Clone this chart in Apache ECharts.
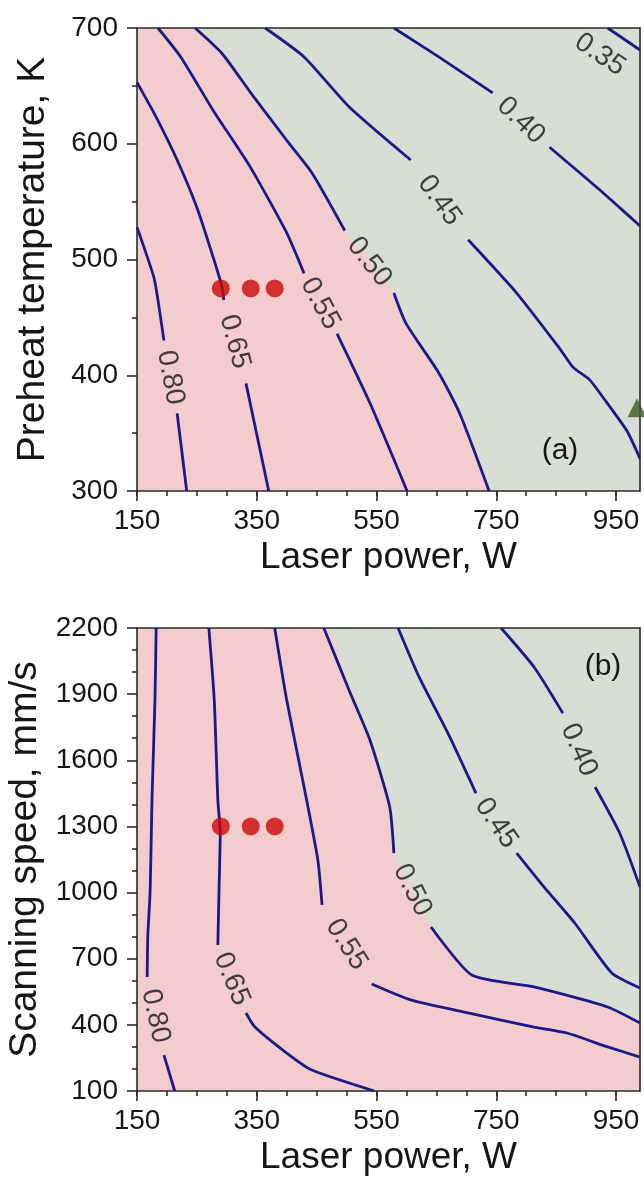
<!DOCTYPE html>
<html>
<head>
<meta charset="utf-8">
<script src="https://cdn.jsdelivr.net/npm/echarts@6/dist/echarts.min.js"></script>
<style>
html, body { margin: 0; padding: 0; background: #fff; }
#chart { width: 644px; height: 1177px; }
</style>
</head>
<body>
<div id="chart"></div>
<script>
// axis ticks
const xMajor = [150, 350, 550, 750, 950];
const xMinor = [150, 200, 250, 300, 350, 400, 450, 500, 550, 600, 650, 700, 750, 800, 850, 900, 950];
const yTicksA = [300, 400, 500, 600, 700];
const yTicksB = [100, 400, 700, 1000, 1300, 1600, 1900, 2200];

// panel (a): laser power W vs preheat temperature K
// each contour = list of segments, split where the level label sits
const a80 = [[[150, 528], [178, 485], [185, 465], [195, 430]], [[217, 367], [233, 300]]];
const a65 = [[[150, 653], [182, 623], [217, 586], [250, 545], [279, 499], [292, 476], [295, 465]], [[332, 393], [370, 300]]];
const a55 = [[[185, 700], [223, 675], [277, 629], [339, 580], [400, 523], [429, 488]], [[484, 436], [539, 376], [601, 300]]];
const a50 = [[[247, 700], [292, 678], [340, 644], [400, 603], [442, 575], [497, 525]], [[579, 471], [599, 445], [654, 402], [689, 367], [738, 300]]];
const a45 = [[[364, 700], [429, 675], [504, 632], [607, 586]], [[703, 517], [784, 471], [856, 423], [878, 407], [906, 396], [928, 381], [968, 352], [990, 328]]];
const a40 = [[[579, 700], [654, 675], [744, 644]], [[839, 597], [923, 560], [990, 529]]];
const a35 = [[[936, 700], [990, 681]]];
const aLabelText = ['0.80', '0.65', '0.55', '0.50', '0.45', '0.40', '0.35'];
const aLabelAt = [[206, 398], [313, 429], [456, 462], [538, 498], [655, 551], [791, 620], [923, 677]];
const aDots = [[290, 475], [340, 475], [380, 475]];
const aTriangle = [[985, 372]];

// panel (b): laser power W vs scanning speed mm/s
const b80 = [[[182, 2200], [180, 1873], [175, 1420], [172, 1012], [168, 800], [167, 617]], [[195, 263], [213, 100]]];
const b65 = [[[270, 2200], [279, 1873], [285, 1420], [289, 1270], [287, 1012], [285, 762]], [[332, 454], [347, 390], [400, 272], [442, 195], [546, 100]]];
const b55 = [[[380, 2200], [400, 1873], [429, 1479], [452, 1148], [459, 944]], [[542, 585], [607, 513], [703, 454], [813, 390], [868, 363], [936, 300], [990, 254]]];
const b50 = [[[462, 2200], [504, 1919], [539, 1692], [572, 1388], [579, 1179]], [[641, 844], [709, 626], [813, 572], [936, 481], [990, 408]]];
const b45 = [[[586, 2200], [621, 1978], [669, 1724], [716, 1451]], [[784, 1179], [831, 1021], [881, 862], [943, 635], [990, 567]]];
const b40 = [[[758, 2200], [813, 2023], [861, 1814]], [[915, 1479], [956, 1270], [990, 1025]]];
const bLabelText = ['0.80', '0.65', '0.55', '0.50', '0.45', '0.40'];
const bLabelAt = [[181, 440], [308, 608], [500, 765], [610, 1011], [750, 1315], [888, 1647]];
const bDots = [[290, 1300], [340, 1300], [380, 1300]];

const FONT = '"Liberation Sans", Arial, Helvetica, sans-serif';
const INK = '#161616';
const AXIS = '#2a2a2a';
const LINE = '#1a1a88';
const PINK = '#f3cdcd';
const GREY = '#d9ded5';
const DOT = '#cc0808';

const GL = 137, GW = 503, GH = 463;
const TOP_A = 28, TOP_B = 628;
const XMIN = 150, XMAX = 990;

// rotation of a level label, taken from the chord across the gap in the line
function angleOf(segs, yRange) {
  let p, q;
  if (segs.length > 1) { p = segs[0][segs[0].length - 1]; q = segs[1][0]; }
  else { p = segs[0][0]; q = segs[0][segs[0].length - 1]; }
  const dx = (q[0] - p[0]) * GW / (XMAX - XMIN);
  const dyDown = (p[1] - q[1]) * GH / yRange;
  return -Math.atan2(dyDown, dx) * 180 / Math.PI;
}

function gridAt(top, painted) {
  return {
    left: GL, top: top, width: GW, height: GH,
    show: painted, backgroundColor: painted ? GREY : 'transparent', borderWidth: 0,
    containLabel: false, outerBoundsMode: 'none'
  };
}

const lineTick = { color: AXIS, width: 1.6 };
const plain = v => String(v);

function xAxes(g, name) {
  return [
    {
      type: 'value', gridIndex: g, position: 'bottom', min: XMIN, max: XMAX, z: 5,
      name: name, nameLocation: 'middle', nameGap: 48,
      nameTextStyle: { fontSize: 37, color: INK, fontFamily: FONT },
      axisLine: { show: true, onZero: false, lineStyle: lineTick },
      axisTick: { show: true, customValues: xMajor, length: 10, lineStyle: lineTick },
      axisLabel: { show: true, customValues: xMajor, formatter: plain, fontSize: 28, color: INK, margin: 16, fontFamily: FONT },
      splitLine: { show: false }
    },
    {
      type: 'value', gridIndex: g, position: 'top', min: XMIN, max: XMAX, z: 5,
      axisLine: { show: true, onZero: false, lineStyle: lineTick },
      axisTick: { show: false }, axisLabel: { show: false }, splitLine: { show: false }
    },
    {
      type: 'value', gridIndex: g + 1, position: 'bottom', min: XMIN, max: XMAX,
      axisLine: { show: false, onZero: false },
      axisTick: { show: true, customValues: xMinor, length: 5, lineStyle: lineTick },
      axisLabel: { show: false }, splitLine: { show: false }
    }
  ];
}

function yAxes(g, name, min, max, step, minorSplit, ticks) {
  return [
    {
      type: 'value', gridIndex: g, position: 'left', min: min, max: max, interval: step, z: 5,
      name: name, nameLocation: 'middle', nameGap: 84,
      nameTextStyle: { fontSize: 39, color: INK, fontFamily: FONT },
      axisLine: { show: true, onZero: false, lineStyle: lineTick },
      axisTick: { show: true, length: 10, lineStyle: lineTick },
      minorTick: { show: true, splitNumber: minorSplit, length: 5, lineStyle: lineTick },
      axisLabel: { show: true, customValues: ticks, formatter: plain, fontSize: 28, color: INK, margin: 19, fontFamily: FONT },
      splitLine: { show: false }, minorSplitLine: { show: false }
    },
    {
      type: 'value', gridIndex: g, position: 'right', min: min, max: max, z: 5,
      axisLine: { show: true, onZero: false, lineStyle: lineTick },
      axisTick: { show: false }, axisLabel: { show: false }, splitLine: { show: false }
    },
    { type: 'value', gridIndex: g + 1, min: 0, max: 1, show: false }
  ];
}

function panelSeries(xi, yi, yMin, yMax, contours, texts, at, dots) {
  const list = [];
  const boundary = contours.find(c => c === a50 || c === b50);
  const area = [[XMIN, yMax]].concat(boundary[0], boundary[1]);
  list.push({
    type: 'line', xAxisIndex: xi, yAxisIndex: yi, data: area, symbol: 'none', smooth: 0.2,
    lineStyle: { width: 0 }, areaStyle: { color: PINK, opacity: 1, origin: 'start' },
    silent: true, z: 1
  });
  contours.forEach(segs => {
    segs.forEach(seg => list.push({
      type: 'line', xAxisIndex: xi, yAxisIndex: yi, data: seg, symbol: 'none', smooth: 0.2,
      lineStyle: { color: LINE, width: 2.8 }, silent: true, z: 3
    }));
  });
  list.push({
    type: 'scatter', xAxisIndex: xi, yAxisIndex: yi, symbolSize: 1, silent: true, z: 4,
    itemStyle: { color: 'rgba(0,0,0,0)' },
    label: { show: true, position: 'inside', fontSize: 28, color: INK, fontFamily: FONT },
    data: texts.map((t, i) => ({
      value: at[i],
      label: { formatter: t, rotate: angleOf(contours[i], yMax - yMin) }
    }))
  });
  list.push({
    type: 'scatter', xAxisIndex: xi, yAxisIndex: yi, data: dots, symbol: 'circle', symbolSize: 18,
    itemStyle: { color: DOT }, silent: true, z: 6
  });
  return list;
}

const series = []
  .concat(panelSeries(0, 0, 300, 700, [a80, a65, a55, a50, a45, a40, a35], aLabelText, aLabelAt, aDots))
  .concat([{
    type: 'scatter', xAxisIndex: 0, yAxisIndex: 0, data: aTriangle, symbol: 'triangle', symbolSize: 19,
    itemStyle: { color: '#3b5a28' }, clip: false, silent: true, z: 6
  }])
  .concat(panelSeries(3, 3, 100, 2200, [b80, b65, b55, b50, b45, b40], bLabelText, bLabelAt, bDots));

const chart = echarts.init(document.getElementById('chart'));
chart.setOption({
  animation: false,
  backgroundColor: '#fff',
  textStyle: { fontFamily: FONT },
  grid: [gridAt(TOP_A, true), gridAt(TOP_A, false), gridAt(TOP_B, true), gridAt(TOP_B, false)],
  xAxis: xAxes(0, 'Laser power, W').concat(xAxes(2, 'Laser power, W')),
  yAxis: yAxes(0, 'Preheat temperature, K', 300, 700, 100, 2, yTicksA)
    .concat(yAxes(2, 'Scanning speed, mm/s', 100, 2200, 300, 3, yTicksB)),
  graphic: [
    { type: 'text', x: 560, y: 451, z: 10, style: { text: '(a)', fontSize: 30, fill: INK, fontFamily: FONT, align: 'center', verticalAlign: 'middle' } },
    { type: 'text', x: 603, y: 667, z: 10, style: { text: '(b)', fontSize: 30, fill: INK, fontFamily: FONT, align: 'center', verticalAlign: 'middle' } }
  ],
  series: series
});
</script>
</body>
</html>
